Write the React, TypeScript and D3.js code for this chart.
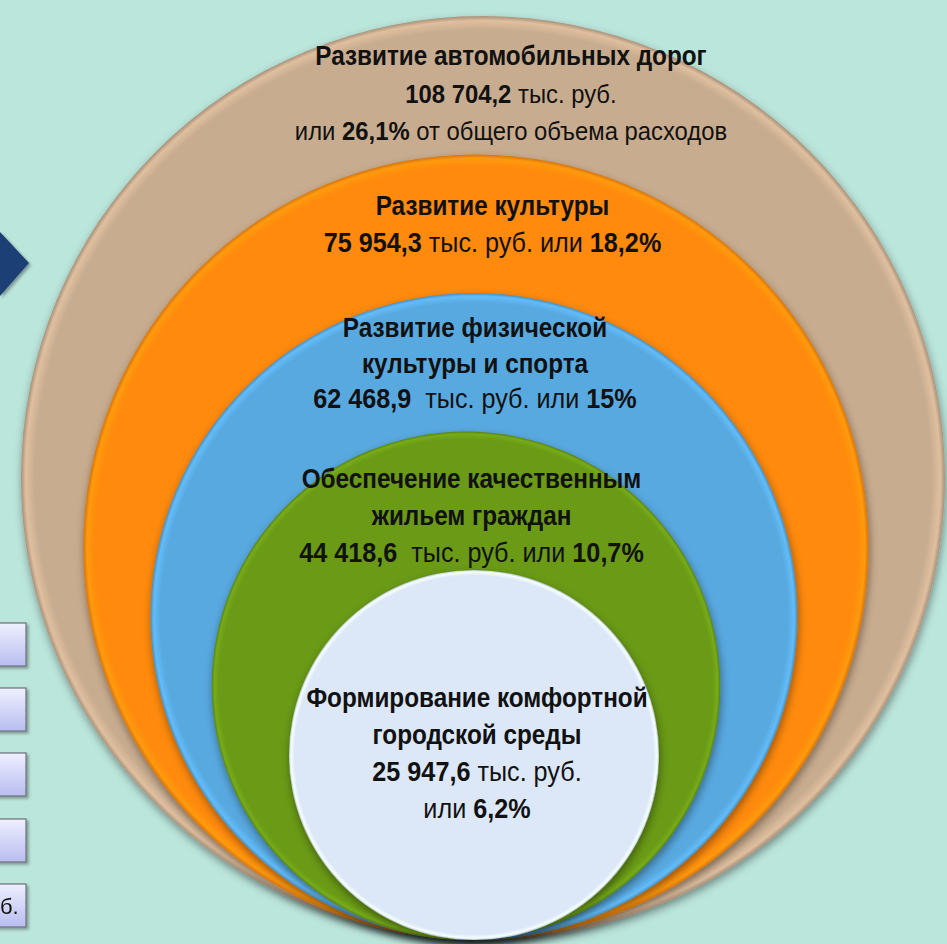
import React from 'react';
import * as d3 from 'd3';

// программы и расходы, тыс. руб.
const programNames = [
  ['Развитие автомобильных дорог'],
  ['Развитие культуры'],
  ['Развитие физической', 'культуры и спорта'],
  ['Обеспечение качественным', 'жильем граждан'],
  ['Формирование комфортной', 'городской среды'],
];
const amounts = ['108 704,2', '75 954,3', '62 468,9', '44 418,6', '25 947,6'];
const shares = ['26,1%', '18,2%', '15%', '10,7%', '6,2%'];
const colors = ['#c8ac8f', '#ff8a0e', '#58a9e0', '#6a9a17', '#dce8f8'];

const W = 947;
const H = 944;
const FONT = "'Liberation Sans', Arial, sans-serif";

type Seg = { t: string; b?: boolean };

// строки подписи для каждого круга; name = строка с названием
function labelLines(i: number): { segs: Seg[]; name: boolean }[] {
  const name = programNames[i].map((s) => ({ segs: [{ t: s, b: true }], name: true }));
  const amt = { t: amounts[i], b: true };
  const pct = { t: shares[i], b: true };
  const gap = i === 2 || i === 3 ? '  ' : ' ';
  if (i === 0)
    return [
      ...name,
      { segs: [amt, { t: ' тыс. руб.' }], name: false },
      { segs: [{ t: 'или ' }, pct, { t: ' от общего объема расходов' }], name: false },
    ];
  if (i === 4)
    return [
      ...name,
      { segs: [amt, { t: ' тыс. руб.' }], name: false },
      { segs: [{ t: 'или ' }, pct], name: false },
    ];
  return [...name, { segs: [amt, { t: gap + 'тыс. руб. или ' }, pct], name: false }];
}

const App = () => {
  const n = amounts.length;
  const bottom = 940;
  const r = d3.scaleLinear().domain([0, n - 1]).range([462, 185]);
  const cx = d3.scaleOrdinal<number, number>().domain(d3.range(n)).range([483, 476, 474, 466, 474]);

  // первая строка подписи, шаг строк, центр
  const labelY = [65, 215, 337, 488, 707];
  const lineH = [37.5, 36.7, 35.5, 36.8, 37];
  const labelX = [511, 492.5, 475, 471.5, 477];
  const kx = 0.9;

  return (
    <svg width={W} height={H} style={{ position: 'fixed', left: 0, top: 0 }}>
      <defs>
        <filter id="shadow" x="-10%" y="-10%" width="120%" height="120%">
          <feDropShadow dx="1" dy="4" stdDeviation="4" floodColor="#000" floodOpacity="0.4" />
        </filter>
        <filter id="boxShadow" x="-20%" y="-20%" width="150%" height="150%">
          <feDropShadow dx="2" dy="2" stdDeviation="1.5" floodColor="#000" floodOpacity="0.35" />
        </filter>
        {colors.map((c, i) => (
          <radialGradient key={i} id={`g${i}`} cx="50%" cy="50%" r="50%">
            <stop offset="0%" stopColor={c} />
            <stop offset="97%" stopColor={c} />
            <stop offset="99%" stopColor={d3.color(c)!.brighter(0.3).formatHex()} />
            <stop offset="100%" stopColor={d3.color(c)!.darker(0.5).formatHex()} />
          </radialGradient>
        ))}
        <linearGradient id="boxFill" x1="0" y1="0" x2="0" y2="1">
          <stop offset="0%" stopColor="#eef0ff" />
          <stop offset="100%" stopColor="#b9bdf0" />
        </linearGradient>
      </defs>
      <rect width={W} height={H} fill="#bbe6dc" />

      {/* стрелка слева */}
      <path d="M0,232 L29,263 L0,296 Z" fill="#1f3f74" filter="url(#boxShadow)" />

      {/* края блоков слева */}
      {[623, 688, 753, 819, 884].map((y, i) => (
        <g key={i} filter="url(#boxShadow)">
          <rect x={-10} y={y} width={36} height={43} fill="url(#boxFill)" stroke="#6d6f7a" strokeWidth={1.2} />
          {i === 4 && (
            <text x={0} y={y + 30} fontFamily={FONT} fontSize={22} fill="#111">
              б.
            </text>
          )}
        </g>
      ))}

      {amounts.map((_, i) => (
        <circle
          key={i}
          cx={cx(i)}
          cy={bottom - r(i)}
          r={r(i)}
          fill={`url(#g${i})`}
          filter="url(#shadow)"
        />
      ))}

      {amounts.map((_, i) =>
        labelLines(i).map((line, j) => (
          <text
            key={`${i}-${j}`}
            transform={`translate(${labelX[i]},${labelY[i] + j * lineH[i]}) scale(${kx},1)`}
            fontFamily={FONT}
            fontSize={line.name ? 27 : i === 0 ? 26.5 : 28}
            fill="#111"
            textAnchor="middle"
            style={{ whiteSpace: 'pre' }}
          >
            {line.segs.map((s, k) => (
              <tspan key={k} fontWeight={s.b ? 'bold' : 'normal'}>
                {s.t}
              </tspan>
            ))}
          </text>
        ))
      )}
    </svg>
  );
};

export default App;
